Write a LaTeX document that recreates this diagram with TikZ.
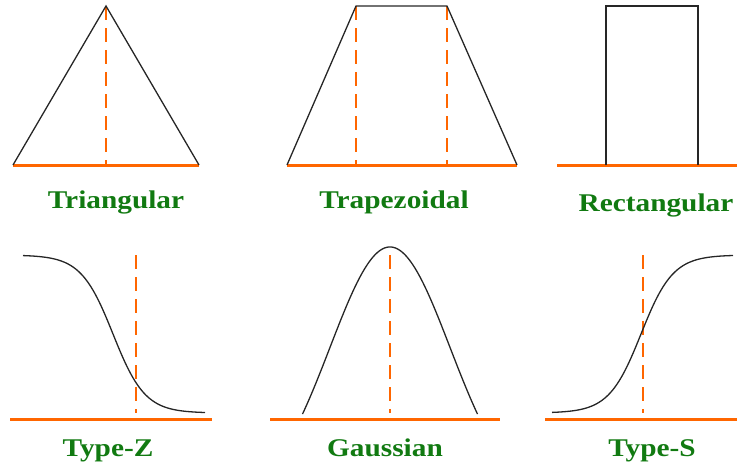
\documentclass[tikz,border=0pt]{standalone}
\usepackage{fontspec}
\setmainfont{Liberation Serif}
\begin{document}
\begin{tikzpicture}[x=1pt,y=-1pt,
  curve/.style={black!85,line width=1.3pt},
  base/.style={draw=orng,line width=3pt},
  guide/.style={draw=orng,line width=1.3pt,dash pattern=on 14pt off 8pt},
  lbl/.style={text=lblgreen,font=\fontsize{25.5}{30}\selectfont\bfseries,anchor=base,xscale=1.15,inner sep=0pt}]
\definecolor{orng}{RGB}{255,102,0}
\definecolor{lblgreen}{RGB}{17,122,17}
\useasboundingbox (0,0) rectangle (737,467);
% Triangular
\draw[base] (13,165) -- (199,165);
\draw[guide] (106,6) -- (106,165);
\draw[curve] (13,165) -- (106,6) -- (199,165);
\node[lbl] (tri) at (116,208) {Triangular};
% Trapezoidal
\draw[base] (287,165) -- (517,165);
\draw[guide] (356,6) -- (356,165);
\draw[guide] (447,6) -- (447,165);
\draw[curve] (287,165) -- (356,6) -- (447,6) -- (517,165);
\node[lbl] (trap) at (394,208) {Trapezoidal};
% Rectangular
\draw[base] (557,165) -- (737,165);
\draw[curve] (606,165) -- (606,6) -- (698,6) -- (698,165);
\node[lbl] (rect) at (656,211) {Rectangular};
% Type-Z
\draw[base] (10,419) -- (212,419);
\draw[guide] (136,255) -- (136,413);
\draw[curve] plot[domain=23:205,samples=120,smooth] (\x,{255+158/(1+exp(-(\x-113)/16))});
\node[lbl] (typez) at (108,456) {Type-Z};
% Gaussian
\draw[base] (270,419) -- (500,419);
\draw[guide] (390,255) -- (390,413);
\draw[curve] plot[domain=302.5:477.5,samples=120,smooth] (\x,{413-166*(exp(-((\x-390)^2)/7200)-0.3495)/(1-0.3495)});
\node[lbl] (gauss) at (385,456) {Gaussian};
% Type-S
\draw[base] (545,419) -- (737,419);
\draw[guide] (643,255) -- (643,413);
\draw[curve] plot[domain=552:733,samples=120,smooth] (\x,{413-158/(1+exp(-(\x-641)/16))});
\node[lbl] (types) at (652,456) {Type-S};
\end{tikzpicture}
\end{document}
